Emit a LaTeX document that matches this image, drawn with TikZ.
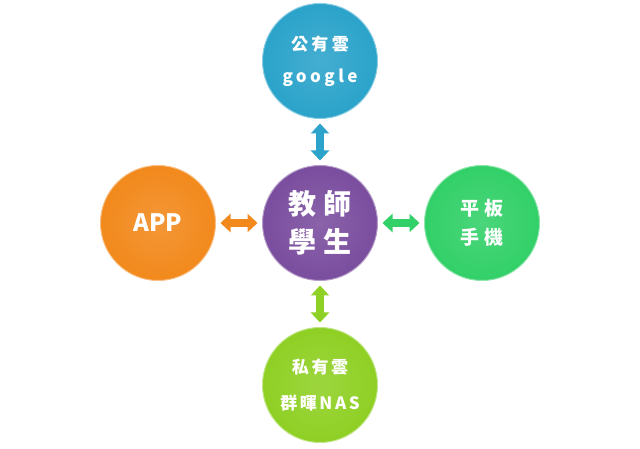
\documentclass[tikz,border=0pt]{standalone}
\usepackage{fontspec}
\setmainfont{Noto Sans CJK TC}
\usetikzlibrary{arrows.meta, positioning}
\definecolor{cloudblue}{RGB}{43,163,202}
\definecolor{hubpurple}{RGB}{122,77,158}
\definecolor{apporange}{RGB}{242,137,28}
\definecolor{padgreen}{RGB}{50,208,104}
\definecolor{naslime}{RGB}{143,208,36}
\tikzset{
  %% ---- circles ----
  bubble/.style = {circle, draw=#1!55!white, line width=1pt,
                   inner color=#1!88!white, outer color=#1,
                   minimum size=115pt, inner sep=0pt, outer sep=0pt,
                   align=center, text=white},
  %% ---- arrows ----
  link/.style   = {{Triangle[width=18pt,length=10pt]}-{Triangle[width=18pt,length=10pt]},
                   line width=8pt, color=#1,
                   shorten <=5pt, shorten >=5pt},
}

\begin{document}
\begin{tikzpicture}[x=1pt, y=1pt, node distance=47pt]
  \useasboundingbox (0,0) rectangle (640,449);

  \node[bubble=hubpurple, font=\bfseries\fontsize{28}{38}\selectfont\addfontfeatures{LetterSpace=25}]
    (hub) at (320,226) {教師\\學生};

  \node[bubble=cloudblue, above=of hub, font=\bfseries\fontsize{17}{32}\selectfont\addfontfeatures{LetterSpace=20}]
    (cloud) {公有雲\\google};

  \node[bubble=apporange, left=of hub, font=\bfseries\fontsize{24}{30}\selectfont]
    (app) {APP};

  \node[bubble=padgreen, right=of hub, font=\bfseries\fontsize{19}{29}\selectfont\addfontfeatures{LetterSpace=25}]
    (pad) {平板\\手機};

  \node[bubble=naslime, below=of hub, font=\bfseries\fontsize{17}{36}\selectfont\addfontfeatures{LetterSpace=15}]
    (nas) {私有雲\\群暉NAS};

  \draw[link=cloudblue] (hub) -- (cloud);
  \draw[link=apporange] (hub) -- (app);
  \draw[link=padgreen] (hub) -- (pad);
  \draw[link=naslime] (hub) -- (nas);

\end{tikzpicture}
\end{document}
